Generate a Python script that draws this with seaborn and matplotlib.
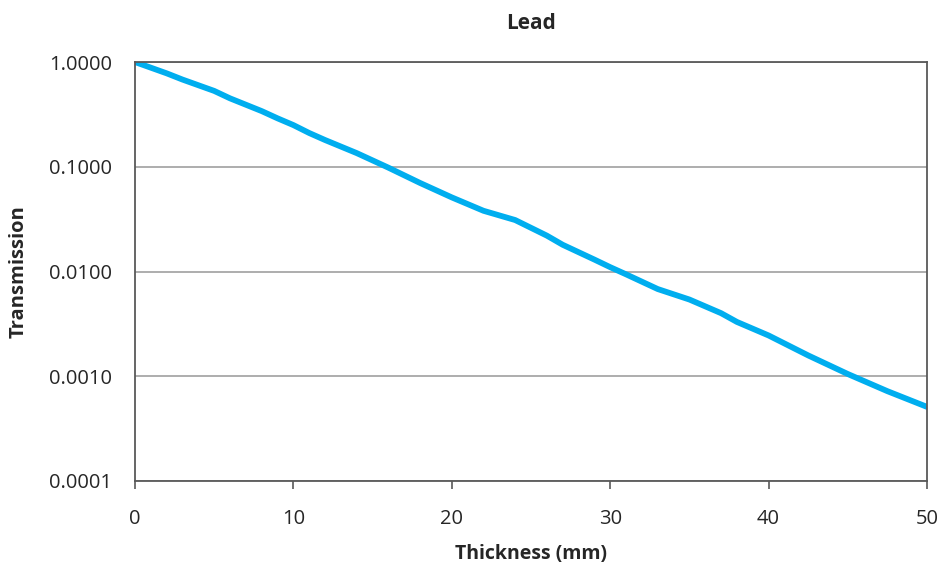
import pandas as pd
import matplotlib
matplotlib.use("Agg")
import matplotlib.pyplot as plt
import seaborn as sns
from matplotlib.ticker import NullLocator

# values
thickness = [0, 2, 3, 5, 6, 8, 9, 10, 11, 12, 14, 16, 18, 20, 22, 24, 26, 27,
             29, 30, 31, 33, 35, 37, 38, 40, 42.5, 45, 47.5, 50]
transmission = [1.0, 0.78, 0.68, 0.53, 0.45, 0.34, 0.29, 0.25, 0.21, 0.18,
                0.135, 0.098, 0.070, 0.051, 0.038, 0.031, 0.022, 0.018,
                0.0130, 0.0110, 0.0094, 0.0068, 0.0054, 0.0040, 0.0033,
                0.00245, 0.00158, 0.00105, 0.00072, 0.00051]
y_ticks = [0.0001, 0.001, 0.01, 0.1, 1.0]
y_tick_labels = ["0.0001", "0.0010", "0.0100", "0.1000", "1.0000"]
x_ticks = [0, 10, 20, 30, 40, 50]

df = pd.DataFrame({"Thickness": thickness, "Transmission": transmission})

sns.set_style("white")
plt.rcParams["font.family"] = ["Open Sans", "DejaVu Sans"]

fig = plt.figure(figsize=(9.38, 5.68), dpi=100)
ax = fig.add_axes([0.1439, 0.1532, 0.8444, 0.7376])

sns.lineplot(data=df, x="Thickness", y="Transmission", color="#00aeef",
             linewidth=4.2, ax=ax, solid_capstyle="round")

ax.set_yscale("log")
ax.set_ylim(0.0001, 1.0)
ax.set_xlim(0, 50)
ax.yaxis.set_minor_locator(NullLocator())
ax.set_yticks(y_ticks)
ax.set_yticklabels(y_tick_labels)
ax.set_xticks(x_ticks)

ax.grid(axis="y", color="#a0a0a0", linewidth=1.2)
ax.grid(axis="x", visible=False)
ax.set_axisbelow(True)
for s in ax.spines.values():
    s.set_color("#595959")
    s.set_linewidth(1.3)
    s.set_visible(True)

ax.tick_params(axis="x", direction="out", length=6, width=1.2, color="#595959",
               labelsize=14.5, labelcolor="#262626", pad=14, bottom=True)
ax.tick_params(axis="y", length=0, labelsize=14.5, labelcolor="#262626", pad=16.5)

ax.set_xlabel("Thickness (mm)", fontsize=14, fontweight="bold", labelpad=11)
ax.set_ylabel("Transmission", fontsize=14.5, fontweight="bold", labelpad=15)
ax.set_title("Lead", fontsize=15, fontweight="bold", pad=24)

fig.savefig("out.png", dpi=100)
